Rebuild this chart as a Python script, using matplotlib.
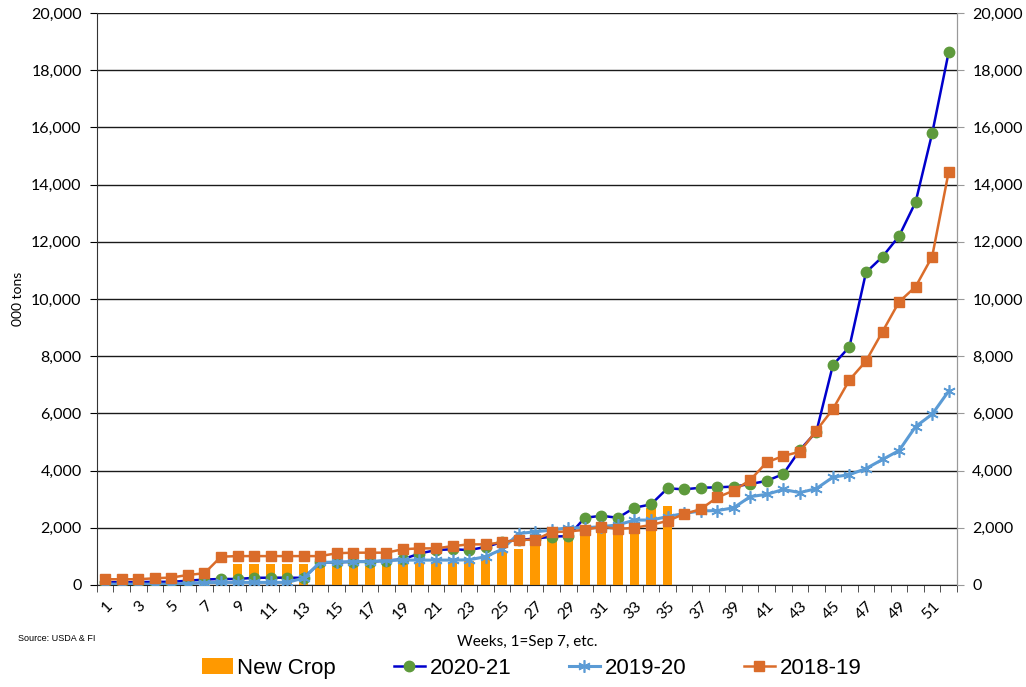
import matplotlib
matplotlib.use('Agg')
import matplotlib.pyplot as plt
from matplotlib.ticker import FuncFormatter, FixedLocator
import numpy as np

weeks = list(range(1, 53))

# New crop bars, weeks 9-35
new_crop = [np.nan] * 8 + [730, 735, 735, 735, 735, 780, 760, 760, 760, 760,
                           760, 770, 790, 800, 850, 980, 1200, 1250, 1450, 1750,
                           1800, 1760, 1870, 1800, 1830, 2680, 2770] + [np.nan] * 17

s2020 = [100, 100, 100, 110, 110, 150, 190, 210, 210, 250,
         255, 255, 250, 790, 790, 815, 815, 850, 900, 1100,
         1220, 1250, 1220, 1330, 1500, 1580, 1620, 1690, 1710, 2350,
         2420, 2350, 2700, 2820, 3380, 3345, 3400, 3415, 3440, 3530,
         3640, 3880, 4720, 5360, 7690, 8330, 10930, 11480, 12200, 13390,
         15790, 18630]

s2019 = [30, 30, 30, 30, 30, 50, 80, 90, 90, 90,
         90, 90, 240, 790, 800, 815, 815, 860, 870, 870,
         870, 870, 880, 990, 1250, 1800, 1860, 1920, 2000, 2000,
         2040, 2100, 2270, 2270, 2390, 2500, 2590, 2600, 2700, 3090,
         3170, 3340, 3230, 3370, 3770, 3860, 4070, 4390, 4700, 5540,
         5970, 6780]

s2018 = [200, 200, 200, 235, 260, 350, 410, 990, 1010, 1010,
         1010, 1010, 1010, 1010, 1110, 1130, 1130, 1130, 1250, 1280,
         1280, 1360, 1420, 1420, 1490, 1580, 1580, 1850, 1870, 1930,
         2040, 1960, 2000, 2100, 2240, 2480, 2650, 3060, 3300, 3670,
         4290, 4510, 4660, 5400, 6150, 7170, 7830, 8860, 9900, 10430,
         11480, 14450]

plt.rcParams['font.family'] = ['Lato', 'DejaVu Sans']

fig = plt.figure(figsize=(10.26, 6.87), dpi=100)
ax = fig.add_axes([0.0945, 0.1485, 0.8382, 0.8325])

b = ax.bar(weeks, new_crop, width=0.58, color='#FF9900', label='New Crop', zorder=2)
l1, = ax.plot(weeks, s2020, color='#0000CC', lw=1.8, marker='o', markersize=7.5,
              markerfacecolor='#5E9A3C', markeredgecolor='#5E9A3C', label='2020-21', zorder=3)
l2, = ax.plot(weeks, s2019, color='#5B9BD5', lw=2.2, marker=(6, 2, 0), markersize=9,
              markeredgecolor='#5B9BD5', markeredgewidth=1.2, label='2019-20', zorder=4)
l3, = ax.plot(weeks, s2018, color='#DA6C2A', lw=1.8, marker='s', markersize=7.5,
              markerfacecolor='#DA6C2A', markeredgecolor='#DA6C2A', label='2018-19', zorder=5)

ax.set_xlim(0.5, 52.5)
ax.set_ylim(0, 20000)
ax.set_yticks(range(0, 20001, 2000))
fmt = FuncFormatter(lambda v, p: '{:,.0f}'.format(v))
ax.yaxis.set_major_formatter(fmt)
ax.grid(axis='y', color='#1a1a1a', lw=1, zorder=0)
ax.set_axisbelow(True)

ax.set_xticks(range(1, 53, 2))
ax.set_xticklabels([str(w) for w in range(1, 53, 2)], rotation=45, ha='right',
                   rotation_mode='anchor')
ax.xaxis.set_minor_locator(FixedLocator(np.arange(0.5, 53, 1)))
ax.tick_params(axis='x', which='major', length=0, pad=10, labelsize=11.5)
ax.tick_params(axis='x', which='minor', length=5, color='#333333')
ax.tick_params(axis='y', length=5, labelsize=11.5, pad=6)

ax.spines['top'].set_visible(False)
ax.spines['right'].set_color('#999999')
ax.spines['left'].set_color('#333333')
ax.spines['bottom'].set_color('#222222')

ax2 = ax.twinx()
ax2.set_ylim(0, 20000)
ax2.set_yticks(range(0, 20001, 2000))
ax2.yaxis.set_major_formatter(fmt)
ax2.tick_params(axis='y', length=5, labelsize=11.5, pad=6, color='#999999')
for s in ['top', 'left', 'bottom']:
    ax2.spines[s].set_visible(False)
ax2.spines['right'].set_color('#999999')

ax.set_ylabel('000 tons', fontsize=10, labelpad=5)
ax.set_xlabel('Weeks, 1=Sep 7, etc.', fontsize=11, labelpad=9)

fig.text(0.018, 0.067, 'Source: USDA & FI', fontsize=6.5, family=['Liberation Sans', 'DejaVu Sans'])

fig.legend([b, l1, l2, l3], ['New Crop', '2020-21', '2019-20', '2018-19'],
           loc='center', bbox_to_anchor=(0.518, 0.027), ncol=4, frameon=False,
           prop={'family': ['Liberation Sans', 'DejaVu Sans'], 'size': 16},
           handlelength=1.4, handletextpad=0.2, columnspacing=2.6)

fig.savefig('out.png', dpi=100)
